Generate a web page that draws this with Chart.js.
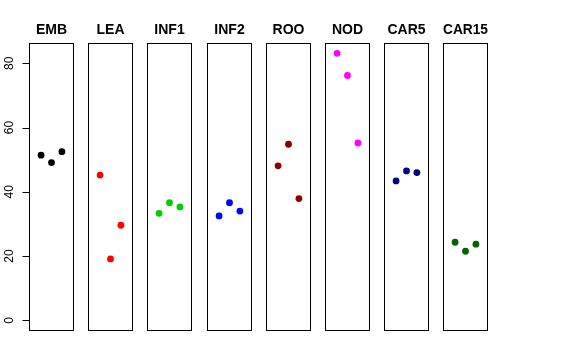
<!DOCTYPE html>
<html>
<head>
<meta charset="utf-8">
<script src="https://cdn.jsdelivr.net/npm/chart.js@4/dist/chart.umd.min.js"></script>
<style>
  body { margin: 0; background: #fff; }
  #wrap { position: relative; width: 576px; height: 360px; background: #fff; overflow: hidden; }
  #wrap canvas { position: absolute; top: 0; }
</style>
</head>
<body>
<div id="wrap"></div>
<script>
const panels = ["EMB", "LEA", "INF1", "INF2", "ROO", "NOD", "CAR5", "CAR15"];
const colors = ["#000000", "#FF0000", "#00CD00", "#0000FF", "#8B0000", "#FF00FF", "#000080", "#006400"];
const reps = [1, 2, 3];
const emb = [51.4, 49.1, 52.5];
const lea = [45.2, 19.1, 29.6];
const inf1 = [33.3, 36.6, 35.3];
const inf2 = [32.5, 36.6, 34.0];
const roo = [48.1, 54.8, 37.9];
const nod = [83.1, 76.2, 55.2];
const car5 = [43.4, 46.5, 46.0];
const car15 = [24.3, 21.5, 23.7];
const yTicks = [0, 20, 40, 60, 80];

const values = [emb, lea, inf1, inf2, roo, nod, car5, car15];

const FONT = "'Liberation Sans', Arial, Helvetica, sans-serif";
const panelLeft = [29, 88, 147, 207, 266, 325, 384, 443];
const panelW = 45, side = 7, axisW = 29;

// box around each panel
const boxPlugin = {
  id: "box",
  afterDraw(chart) {
    const a = chart.chartArea, ctx = chart.ctx;
    ctx.save();
    ctx.strokeStyle = "#000";
    ctx.lineWidth = 1;
    ctx.strokeRect(Math.round(a.left) + 0.5, Math.round(a.top) + 0.5,
                   Math.round(a.right - a.left) - 1, Math.round(a.bottom - a.top) - 1);
    ctx.restore();
  }
};

// y axis on the first panel, R style: line from first to last tick, rotated labels
const yAxisPlugin = {
  id: "yaxis",
  afterDraw(chart) {
    const ys = chart.scales.y, ctx = chart.ctx;
    const x = Math.round(chart.chartArea.left) + 0.5;
    ctx.save();
    ctx.strokeStyle = "#000";
    ctx.lineWidth = 1;
    ctx.beginPath();
    ctx.moveTo(x, Math.round(ys.getPixelForValue(yTicks[0])) + 0.5);
    ctx.lineTo(x, Math.round(ys.getPixelForValue(yTicks[yTicks.length - 1])) + 0.5);
    yTicks.forEach(t => {
      const py = Math.round(ys.getPixelForValue(t)) + 0.5;
      ctx.moveTo(x - 7, py);
      ctx.lineTo(x, py);
    });
    ctx.stroke();
    ctx.fillStyle = "#000";
    ctx.font = "12px " + FONT;
    ctx.textAlign = "center";
    ctx.textBaseline = "alphabetic";
    yTicks.forEach(t => {
      const py = ys.getPixelForValue(t);
      ctx.save();
      ctx.translate(13, py);
      ctx.rotate(-Math.PI / 2);
      ctx.fillText(String(t), 0, 0);
      ctx.restore();
    });
    ctx.restore();
  }
};

const wrap = document.getElementById("wrap");

panels.forEach((name, i) => {
  const first = i === 0;
  const padL = first ? axisW : side;
  const canvas = document.createElement("canvas");
  canvas.width = padL + panelW + side;
  canvas.height = 360;
  canvas.style.left = (panelLeft[i] - padL) + "px";
  wrap.appendChild(canvas);

  new Chart(canvas, {
    type: "scatter",
    data: {
      datasets: [{
        data: reps.map((r, j) => ({ x: r, y: values[i][j] })),
        backgroundColor: colors[i],
        borderWidth: 0,
        pointRadius: 3.4,
        pointHoverRadius: 3.4
      }]
    },
    options: {
      responsive: false,
      animation: false,
      devicePixelRatio: 1,
      layout: { padding: { left: padL, right: side, top: 0, bottom: 29 } },
      scales: {
        x: { type: "linear", min: -0.16, max: 4.16, display: false },
        y: { type: "linear", min: -3.32, max: 86.32, display: false }
      },
      plugins: {
        legend: { display: false },
        tooltip: { enabled: false },
        title: {
          display: true,
          text: name,
          color: "#000",
          font: { family: FONT, size: 14, weight: "bold", lineHeight: 1.2 },
          padding: { top: 22, bottom: 4.2 }
        }
      }
    },
    plugins: first ? [boxPlugin, yAxisPlugin] : [boxPlugin]
  });
});
</script>
</body>
</html>
